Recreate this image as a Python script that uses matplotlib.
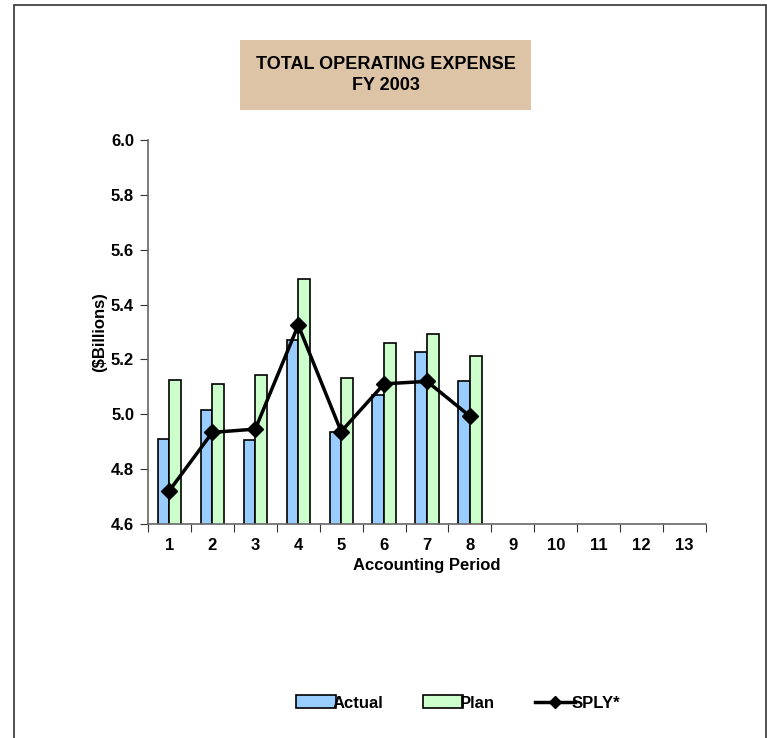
import matplotlib
matplotlib.use("Agg")
import matplotlib.pyplot as plt
from matplotlib import font_manager
from matplotlib.patches import Rectangle
import numpy as np

# condensed bold face if available
names = {f.name for f in font_manager.fontManager.ttflist}
if "Liberation Sans Narrow" in names:
    plt.rcParams['font.family'] = ['Liberation Sans Narrow', 'DejaVu Sans']
else:
    plt.rcParams['font.family'] = ['Liberation Sans', 'DejaVu Sans']
plt.rcParams['font.weight'] = 'bold'
plt.rcParams['axes.labelweight'] = 'bold'

periods = list(range(1, 14))
actual = [4.911, 5.017, 4.907, 5.271, 4.937, 5.070, 5.227, 5.123]
plan = [5.124, 5.111, 5.145, 5.494, 5.134, 5.261, 5.292, 5.212]
sply = [4.722, 4.934, 4.946, 5.325, 4.937, 5.111, 5.120, 4.993]
yticks = [4.6, 4.8, 5.0, 5.2, 5.4, 5.6, 5.8, 6.0]

fig = plt.figure(figsize=(7.67, 7.38), dpi=100)
fig.patch.set_facecolor('white')

# outer frame
fig.add_artist(Rectangle((14 / 767, -0.01), 752 / 767, 1 - 5 / 738 + 0.01,
                         transform=fig.transFigure, fill=False,
                         edgecolor='#333333', linewidth=1.2))

ax = fig.add_axes([148 / 767, 214 / 738, 558 / 767, 384 / 738])

w = 0.27
x_act = np.arange(1, len(actual) + 1)
b1 = ax.bar(x_act - w / 2, actual, width=w, color='#99CCFF',
            edgecolor='black', linewidth=1.2, zorder=2)
b2 = ax.bar(x_act + w / 2, plan, width=w, color='#CCFFCC',
            edgecolor='black', linewidth=1.2, zorder=2)
ln, = ax.plot(x_act, sply, color='black', linewidth=2.5, marker='D',
              markersize=8, zorder=3)

ax.set_xlim(0.5, 13.5)
ax.set_ylim(4.6, 6.0)
ax.set_yticks(yticks)
ax.set_yticklabels([f"{v:.1f}" for v in yticks], fontsize=12)

# ticks at category boundaries, labels at centres
ax.set_xticks(np.arange(0.5, 14, 1.0))
ax.set_xticklabels([])
ax.set_xticks(periods, minor=True)
ax.set_xticklabels([str(p) for p in periods], minor=True, fontsize=12)
ax.tick_params(axis='x', which='minor', length=0, pad=10)
ax.tick_params(axis='x', which='major', length=6, direction='out',
               color='#333333')
ax.tick_params(axis='y', length=6, direction='out', color='#333333', pad=4)

for s in ['top', 'right']:
    ax.spines[s].set_visible(False)
for s in ['left', 'bottom']:
    ax.spines[s].set_color('#666666')
    ax.spines[s].set_linewidth(1.2)

ax.set_xlabel('Accounting Period', fontsize=12, labelpad=4)
ax.set_ylabel('($Billions)', fontsize=12, labelpad=3)

# title box
fig.add_artist(Rectangle((240 / 767, 1 - 110 / 738), 291 / 767, 70 / 738,
                         transform=fig.transFigure, facecolor='#DEC4A6',
                         edgecolor='none'))
fig.text(386 / 767, 1 - 75 / 738, 'TOTAL OPERATING EXPENSE\nFY 2003',
         ha='center', va='center', fontsize=13, linespacing=1.35)

fig.legend([b1, b2, ln], ['Actual', 'Plan', 'SPLY*'], loc='center',
           bbox_to_anchor=(458 / 767, 1 - 703 / 738), ncol=3,
           frameon=False, fontsize=12, handlelength=2.4, handleheight=0.8,
           handletextpad=-0.2, columnspacing=2.4, markerscale=0.75)

fig.savefig('out.png', dpi=100, facecolor='white')
